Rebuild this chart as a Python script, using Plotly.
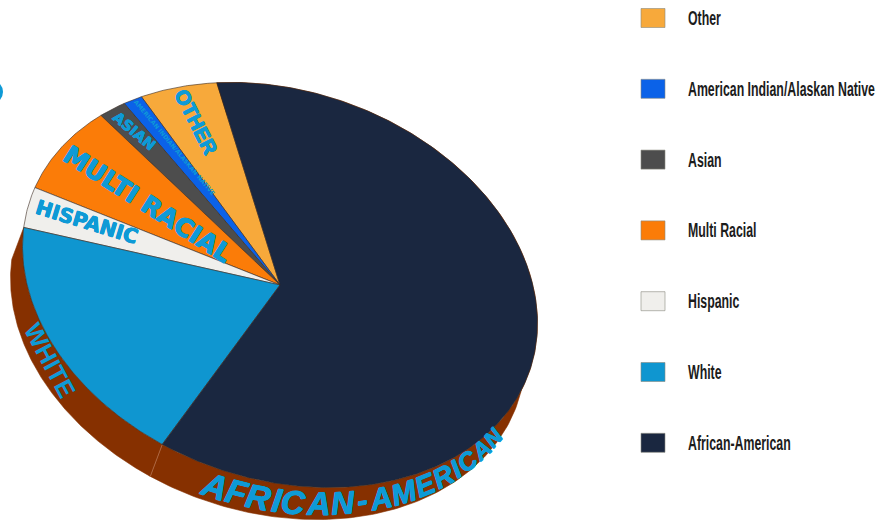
import json
import math
import numpy as np
import plotly.graph_objects as go

# ---- data (share of the pie, percent) ----
categories = ["Other", "American Indian/Alaskan Native", "Asian", "Multi Racial",
              "Hispanic", "White", "African-American"]
shares = [5.1, 1.3, 1.9, 7.8, 3.4, 19.0, 61.5]
colors = ["#f7a93b", "#0b62e8", "#4d4d4d", "#fb7c08", "#f0efec", "#0f96d0", "#1a2740"]
side_color = "#863000"
label_color = "#0e9ad6"

# ---- styling / layout ----
CX, CY = 280, 285
A, B = 264, 194
PHI = math.radians(19)
DEPTH = (-12, 32)
START = 241.6   # ellipse angle where "African-American" begins, clockwise sweep
W, H = 884, 521


def rim(t_deg, k=1.0, off=0.0):
    t = np.radians(t_deg)
    u, v = A * np.cos(t) * k, B * np.sin(t) * k
    return (CX + u * math.cos(PHI) - v * math.sin(PHI) + off * DEPTH[0],
            CY + u * math.sin(PHI) + v * math.cos(PHI) + off * DEPTH[1])


fig = go.Figure()

# wedge angle ranges, from the shares
ranges = {}
a = START
for name, s in zip(categories[::-1], shares[::-1]):
    ranges[name] = (a, a + s * 3.6)
    a += s * 3.6

# side wall: only the two front slices show it
for name in ["White", "African-American"]:
    t0, t1 = ranges[name]
    ts = np.linspace(t0, t1, 240)
    x1, y1 = rim(ts)
    x2, y2 = rim(ts[::-1], off=1)
    fig.add_trace(go.Scatter(x=np.r_[x1, x2, x1[0]], y=np.r_[y1, y2, y1[0]], mode="lines",
                             fill="toself", fillcolor=side_color,
                             line=dict(color=side_color, width=0.6),
                             hoverinfo="skip", showlegend=False))
# seam between the two walls
tb = ranges["White"][0]
sx0, sy0 = rim(np.array([tb]))
sx1, sy1 = rim(np.array([tb]), off=1)
fig.add_trace(go.Scatter(x=[sx0[0], sx1[0]], y=[sy0[0], sy1[0]], mode="lines",
                         line=dict(color="#b5714e", width=0.8),
                         hoverinfo="skip", showlegend=False))

# top face
for name, col in zip(categories, colors):
    t0, t1 = ranges[name]
    ts = np.linspace(t0, t1, max(12, int((t1 - t0) * 2)))
    x, y = rim(ts)
    fig.add_trace(go.Scatter(x=np.r_[CX, x, CX], y=np.r_[CY, y, CY], mode="lines",
                             fill="toself", fillcolor=col,
                             line=dict(color="#3a2a20", width=0.6),
                             name=name, hoverinfo="name", showlegend=False))

# cut-off dot at the left edge of the picture
fig.add_trace(go.Scatter(x=[-9], y=[92], mode="markers",
                         marker=dict(color=label_color, size=24),
                         hoverinfo="skip", showlegend=False))

annotations = []


def heavy(px_w, col):
    return ", ".join(f"{dx}px {dy}px 0 {col}" for dx, dy in
                     [(px_w, 0), (-px_w, 0), (0, px_w), (0, -px_w)])


def label(text, x, y, angle, size, family="Liberation Sans", italic=False, thick=0.6):
    annotations.append(dict(x=x, y=y, xref="x", yref="y", text=text, textangle=angle,
                            showarrow=False, xanchor="center", yanchor="middle",
                            font=dict(family=family, size=size, color=label_color,
                                      weight="bold",
                                      style="italic" if italic else "normal",
                                      shadow=heavy(thick, label_color) if thick else "none")))


label("OTHER", 196, 122, 63, 20, "Liberation Sans")
label("AMERICAN INDIAN/ALASKAN NATIVE", 175, 147, 50, 6, "DejaVu Sans", thick=0)
label("ASIAN", 134, 131, 40, 14.5, "DejaVu Sans", thick=0.3)
label("MULTI RACIAL", 148, 204, 32.5, 25, "DejaVu Sans")
label("HISPANIC", 87, 222, 17, 20, "DejaVu Sans", thick=0.4)
label("WHITE", 50, 360, 62, 25, "Liberation Sans", thick=0)

# rim text, set letter by letter along the wall
rim_text = "AFRICAN-AMERICAN"
rim_adv = [1.05, .82, 1.0, .5, 1.0, 1.05, 1.05, .6, 1.05, 1.2, .95, 1.0, .5, 1.0, 1.05, 1.05]
rim_sizes = [34 - 12 * (i / 15) ** 2 for i in range(16)]
ts = np.linspace(92, 15, 400)
px, py = rim(ts, off=0.5)
seg = np.r_[0, np.cumsum(np.hypot(np.diff(px), np.diff(py)))]
weights = [w * s for w, s in zip(rim_adv, rim_sizes)]
edges = np.r_[0, np.cumsum(weights)] / sum(weights) * seg[-1]
for i, ch in enumerate(rim_text):
    m = (edges[i] + edges[i + 1]) / 2
    j = min(int(np.searchsorted(seg, m)), len(ts) - 2)
    ang = math.degrees(math.atan2(py[j + 1] - py[j], px[j + 1] - px[j]))
    label(ch, float(px[j]), float(py[j]), ang, rim_sizes[i], "Liberation Sans", True, 0.5)

# legend
shapes = []
for i, (name, col) in enumerate(zip(categories, colors)):
    yc = 18 + i * 70.8
    shapes.append(dict(type="rect", xref="x", yref="y", x0=641, x1=665, y0=yc - 9.5, y1=yc + 9.5,
                       fillcolor=col, line=dict(color="#8a8a80", width=0.6)))
    annotations.append(dict(x=686, y=yc, xref="x", yref="y", text=name, showarrow=False,
                            xanchor="left", yanchor="middle",
                            font=dict(family="Liberation Sans", size=20,
                                      color="#1c1c1c", weight="bold")))

fig.update_layout(
    width=W, height=H, margin=dict(l=0, r=0, t=0, b=0),
    paper_bgcolor="white", plot_bgcolor="white", showlegend=False,
    xaxis=dict(range=[0, W], visible=False, fixedrange=True),
    yaxis=dict(range=[H, 0], visible=False, fixedrange=True),
    shapes=shapes, annotations=annotations,
)

# no condensed font is installed: squeeze the legend labels horizontally around
# their left edge, and drop the page's default body margin so the plot fills the window
post = """
document.body.style.margin = '0';
(function () {
  var names = %s;
  var all = Array.from(document.querySelectorAll('.annotation-text'))
    .filter(function (t) { return names.indexOf(t.textContent) >= 0; });
  var longest = Math.max.apply(null, all.map(function (t) { return t.getBBox().width; }));
  var r = 187 / longest;
  all.forEach(function (t) {
    var left = t.getBBox().x;
    t.setAttribute('transform', 'translate(' + left + ',0) scale(' + r + ',1) translate(' + (-left) + ',0)');
  });
})();
""" % json.dumps(categories)
fig.write_html("out.html", config={"displayModeBar": False}, post_script=post)
